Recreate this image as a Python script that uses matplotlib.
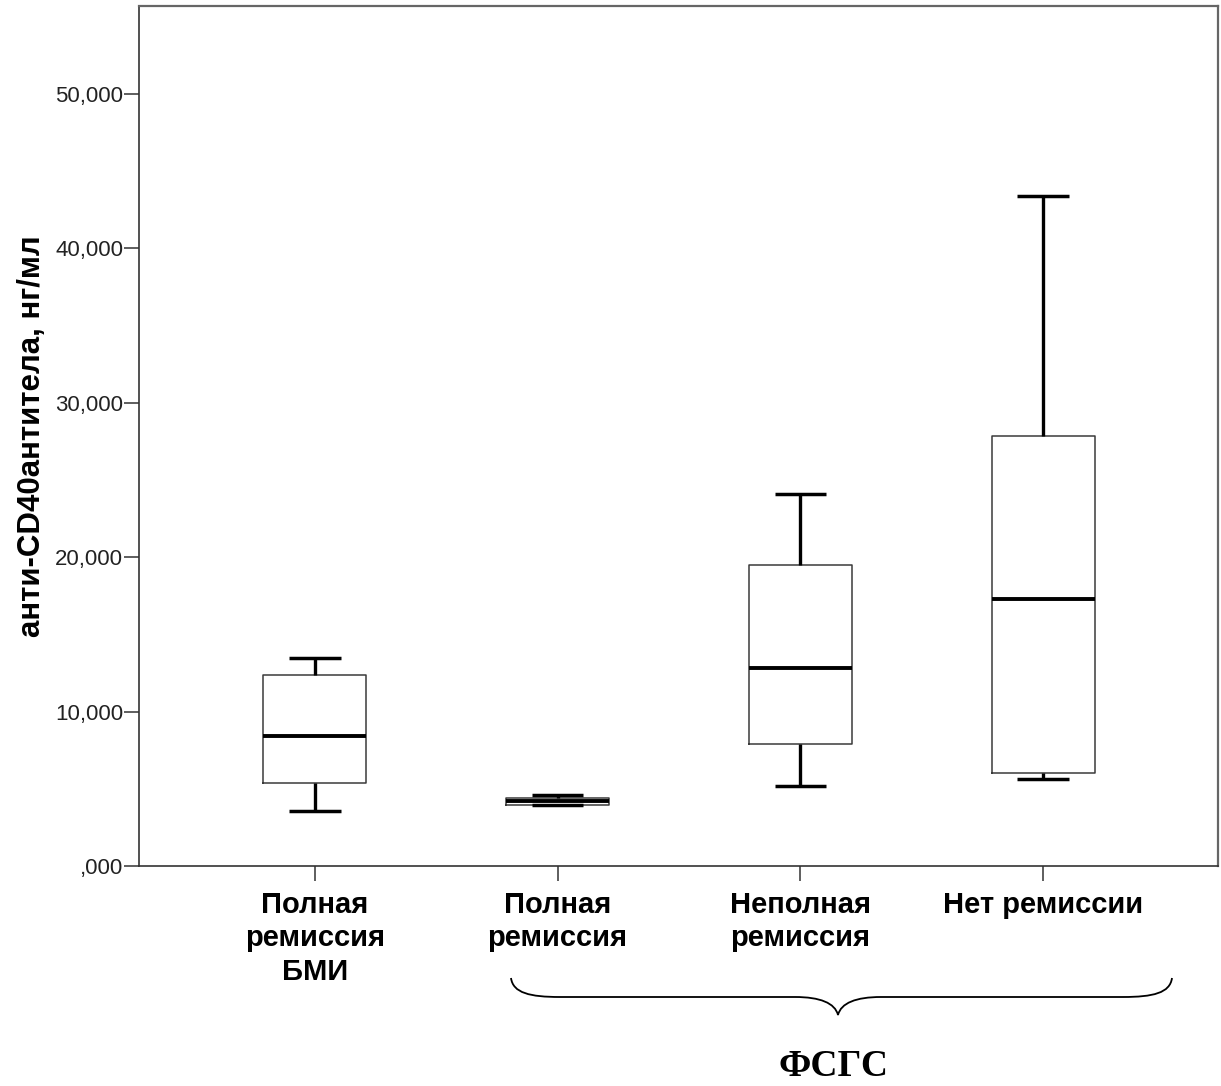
import matplotlib.pyplot as plt
from matplotlib.path import Path
from matplotlib.patches import PathPatch
from matplotlib.ticker import FuncFormatter, MultipleLocator

# anti-CD40 antibodies by outcome group, ng/ml (box plot summary)
groups = ["Полная\nремиссия\nБМИ", "Полная\nремиссия", "Неполная\nремиссия", "Нет ремиссии"]
whisker_low = [3.58, 3.93, 5.18, 5.63]
q1 = [5.36, 3.95, 7.90, 6.04]
medians = [8.42, 4.20, 12.80, 17.30]
q3 = [12.37, 4.38, 19.50, 27.87]
whisker_high = [13.45, 4.62, 24.10, 43.40]

brace_label = "ФСГС"
y_label = "анти-CD40антитела, нг/мл"


def spss_fmt(v, pos):
    s = f"{v:.3f}".replace(".", ",")
    if s.startswith("0,"):
        s = s[1:]
    return s


def plot():
    fig = plt.figure(figsize=(12.21, 10.86), dpi=100)
    ax = fig.add_axes([139 / 1221, 220 / 1086, 1079 / 1221, 860 / 1086])

    stats = []
    for i, name in enumerate(groups):
        stats.append({
            "label": name,
            "whislo": whisker_low[i],
            "q1": q1[i],
            "med": medians[i],
            "q3": q3[i],
            "whishi": whisker_high[i],
            "fliers": [],
        })

    ax.bxp(stats, positions=[1, 2, 3, 4], widths=0.424, capwidths=0.212,
           showfliers=False,
           boxprops=dict(color="#3a3a3a", linewidth=1.1),
           medianprops=dict(color="black", linewidth=2.8, solid_capstyle="butt"),
           whiskerprops=dict(color="black", linewidth=2.4, solid_capstyle="butt"),
           capprops=dict(color="black", linewidth=2.5, solid_capstyle="butt"))

    ax.set_xlim(0.276, 4.72)
    ax.set_ylim(0, 55.7)
    ax.yaxis.set_major_locator(MultipleLocator(10))
    ax.yaxis.set_major_formatter(FuncFormatter(spss_fmt))

    ax.set_xticks([1, 2, 3, 4])
    ax.set_xticklabels(groups, fontsize=21, fontweight="bold",
                       family="Liberation Sans", linespacing=1.25)
    for lbl in ax.get_yticklabels():
        lbl.set_fontsize(16)
        lbl.set_family("Liberation Sans")
        lbl.set_color("#222222")

    ax.tick_params(axis="y", length=11, width=1.1, pad=0.5, color="#333333")
    ax.tick_params(axis="x", length=11, width=1.1, pad=7, color="#333333")

    for side in ["left", "bottom"]:
        ax.spines[side].set_color("#333333")
        ax.spines[side].set_linewidth(1.2)
    for side in ["top", "right"]:
        ax.spines[side].set_color("#666666")
        ax.spines[side].set_linewidth(1.6)

    ax.set_ylabel(y_label, fontsize=22.5, fontweight="bold", family="Liberation Sans")
    ax.yaxis.set_label_coords(-0.085, 0.5)

    # curly brace under the FSGS groups, drawn in pixel space
    over = fig.add_axes([0, 0, 1, 1])
    over.set_xlim(0, 1221)
    over.set_ylim(1086, 0)
    over.axis("off")
    verts = [
        (511, 978), (513, 993), (530, 997), (560, 997),
        (795, 997),
        (820, 997), (835, 1003), (838, 1015),
        (841, 1003), (856, 997), (881, 997),
        (1123, 997),
        (1153, 997), (1170, 993), (1172, 978),
    ]
    codes = [Path.MOVETO, Path.CURVE4, Path.CURVE4, Path.CURVE4,
             Path.LINETO,
             Path.CURVE4, Path.CURVE4, Path.CURVE4,
             Path.CURVE4, Path.CURVE4, Path.CURVE4,
             Path.LINETO,
             Path.CURVE4, Path.CURVE4, Path.CURVE4]
    over.add_patch(PathPatch(Path(verts, codes), facecolor="none",
                             edgecolor="black", linewidth=1.3))
    over.text(833, 1066, brace_label, ha="center", va="center", fontsize=27,
              fontweight="bold", family="Liberation Serif")

    fig.savefig("out.png", dpi=100)


plot()
